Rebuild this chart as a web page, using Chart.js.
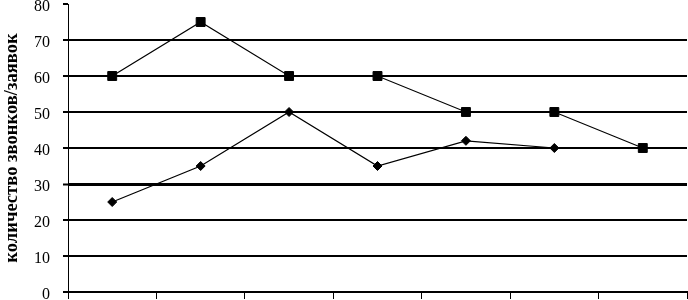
<!DOCTYPE html>
<html>
<head>
<meta charset="utf-8">
<script src="https://cdn.jsdelivr.net/npm/chart.js@4"></script>
<style>
  html, body { margin: 0; padding: 0; background: #fff; }
  #wrap { width: 688px; height: 300px; position: relative; }
</style>
</head>
<body>
<div id="wrap"><canvas id="c" width="688" height="300"></canvas></div>
<script>
const categories = ['1', '2', '3', '4', '5', '6', '7'];
const seriesSquares = [60, 75, 60, 60, 50, 50, 40];
const seriesDiamonds = [25, 35, 50, 35, 42, 40, null];
const yTickValues = [0, 10, 20, 30, 40, 50, 60, 70, 80];
const yTitle = 'количество звонков/заявок';

const serif = '"Liberation Serif", "Times New Roman", serif';
const yMax = yTickValues[yTickValues.length - 1];

new Chart(document.getElementById('c'), {
  type: 'line',
  data: {
    labels: categories,
    datasets: [
      {
        data: seriesSquares,
        borderColor: '#000',
        backgroundColor: '#000',
        borderWidth: 1.2,
        pointStyle: 'rect',
        pointRadius: 6.3,
        pointBorderWidth: 1,
        pointBackgroundColor: '#000',
        pointBorderColor: '#000',
        tension: 0,
        spanGaps: false
      },
      {
        data: seriesDiamonds,
        borderColor: '#000',
        backgroundColor: '#000',
        borderWidth: 1.2,
        pointStyle: 'rectRot',
        pointRadius: 4.5,
        pointBorderWidth: 1,
        pointBackgroundColor: '#000',
        pointBorderColor: '#000',
        tension: 0,
        spanGaps: false
      }
    ]
  },
  options: {
    responsive: false,
    animation: false,
    devicePixelRatio: 1,
    layout: { autoPadding: false, padding: { left: 1, right: 1, top: 4, bottom: 0 } },
    plugins: { legend: { display: false }, tooltip: { enabled: false } },
    scales: {
      x: {
        type: 'category',
        offset: true,
        grid: {
          offset: true,
          drawOnChartArea: false,
          drawTicks: true,
          tickLength: 7,
          color: '#000',
          lineWidth: 1
        },
        border: { display: true, color: '#000', width: 2 },
        ticks: { display: false },
        afterFit: (s) => { s.height = 8; s.paddingLeft = 0; s.paddingRight = 0; }
      },
      y: {
        min: 0,
        max: yMax,
        afterBuildTicks: (s) => { s.ticks = yTickValues.map(v => ({ value: v })); },
        afterFit: (s) => { s.width = 67; s.paddingTop = 0; s.paddingBottom = 0; },
        grid: {
          color: (ctx) => (ctx.tick && ctx.tick.value === yMax) ? 'rgba(0,0,0,0)' : '#000',
          tickColor: '#000',
          lineWidth: (ctx) => {
            if (ctx.index === yTickValues.length - 1) return 0;
            return (ctx.tick && ctx.tick.value === 30) ? 3 : 2;
          },
          tickWidth: 2,
          tickLength: 5,
          drawTicks: true
        },
        border: { display: true, color: '#000', width: 1 },
        ticks: {
          color: '#000',
          font: { family: serif, size: 16 },
          padding: 13,
          labelOffset: 2.5
        },
        title: {
          display: true,
          text: yTitle,
          color: '#000',
          font: { family: serif, size: 18.6, weight: 'bold', lineHeight: 1 },
          padding: { top: 2, bottom: 0 }
        }
      }
    }
  }
});
</script>
</body>
</html>
